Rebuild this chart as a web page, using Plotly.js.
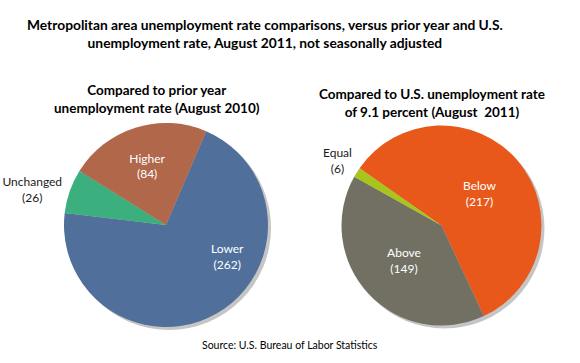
<!DOCTYPE html>
<html>
<head>
<meta charset="utf-8">
<script src="https://cdn.plot.ly/plotly-3.0.1.min.js"></script>
<style>html,body{margin:0;padding:0;background:#fff;}#chart{width:580px;height:363px;}</style>
</head>
<body>
<div id="chart"></div>
<script>
// Left pie: compared to prior year (August 2010)
var priorLabels = ["Lower", "Unchanged", "Higher"];
var priorValues = [262, 26, 84];
var priorColors = ["#50709B", "#3CAF7E", "#B0674A"];

// Right pie: compared to U.S. rate of 9.1 percent (August 2011)
var usLabels = ["Below", "Above", "Equal"];
var usValues = [217, 149, 6];
var usColors = ["#E8581B", "#717063", "#A9C51B"];

var FONT = "Lato, 'Open Sans', sans-serif";

function shadow(domain) {
  return {
    type: "pie", values: [1], labels: ["s"], sort: false, textinfo: "none",
    hoverinfo: "skip", showlegend: false, domain: domain,
    marker: {colors: ["rgba(90,90,90,0.35)"], line: {width: 0}}
  };
}

var leftDom = {x: [0.1103, 0.4621], y: [0.0992, 0.6612]};
var rightDom = {x: [0.5888, 0.9336], y: [0.1033, 0.6543]};
function shift(d, dx, dy) {
  return {x: [d.x[0] + dx, d.x[1] + dx], y: [d.y[0] - dy, d.y[1] - dy]};
}
function lbl(labels, values, i) {
  return labels[i] + "<br>(" + values[i] + ")";
}

var data = [
  shadow(shift(leftDom, 3/580, 3/363)),
  shadow(shift(rightDom, 3/580, 3/363)),
  {
    type: "pie", labels: priorLabels, values: priorValues, sort: false,
    direction: "clockwise", rotation: 23.2, domain: leftDom,
    marker: {colors: priorColors, line: {width: 0}},
    texttemplate: "%{label}<br>(%{value})",
    textposition: ["none", "outside", "inside"],
    insidetextfont: {color: "#ffffff", size: 12, family: FONT},
    outsidetextfont: {color: "#1a1a1a", size: 12, family: FONT},
    insidetextorientation: "horizontal",
    showlegend: false, hoverinfo: "label+value"
  },
  {
    type: "pie", labels: usLabels, values: usValues, sort: false,
    direction: "clockwise", rotation: 305, domain: rightDom,
    marker: {colors: usColors, line: {width: 0}},
    texttemplate: "%{label}<br>(%{value})",
    textposition: ["inside", "inside", "none"],
    insidetextfont: {color: "#ffffff", size: 12, family: FONT},
    outsidetextfont: {color: "#1a1a1a", size: 12, family: FONT},
    insidetextorientation: "horizontal",
    showlegend: false, hoverinfo: "label+value"
  }
];

var layout = {
  width: 580, height: 363,
  margin: {l: 0, r: 0, t: 0, b: 0},
  paper_bgcolor: "#ffffff",
  font: {family: FONT, color: "#000000"},
  showlegend: false,
  annotations: [
    {text: "<b>Metropolitan area unemployment rate comparisons, versus prior year and U.S.<br>unemployment rate, August 2011, not seasonally adjusted</b>",
     xref: "paper", yref: "paper", x: 265/580, y: 1 - 33/363, xanchor: "center", yanchor: "middle",
     showarrow: false, font: {size: 13.8, family: FONT, color: "#000000"}},
    {text: "<b>Compared to prior year<br>unemployment rate (August 2010)</b>", xref: "paper", yref: "paper",
     x: 157/580, y: 1 - 99/363, xanchor: "center", yanchor: "middle", showarrow: false,
     font: {size: 13.5, family: FONT, color: "#000000"}},
    {text: "<b>Compared to U.S. unemployment rate<br>of 9.1 percent (August  2011)</b>", xref: "paper", yref: "paper",
     x: 432/580, y: 1 - 103/363, xanchor: "center", yanchor: "middle", showarrow: false,
     font: {size: 13.5, family: FONT, color: "#000000"}},
    {text: lbl(priorLabels, priorValues, 0), xref: "paper", yref: "paper",
     x: 227/580, y: 1 - 256/363, xanchor: "center", yanchor: "middle", showarrow: false,
     font: {size: 12, family: FONT, color: "#ffffff"}},
    {text: lbl(usLabels, usValues, 2), xref: "paper", yref: "paper",
     x: 337/580, y: 1 - 160/363, xanchor: "center", yanchor: "middle", showarrow: false,
     font: {size: 12, family: FONT, color: "#1a1a1a"}},
    {text: "Source: U.S. Bureau of Labor Statistics", xref: "paper", yref: "paper",
     x: 0.5, y: 1 - 345/363, xanchor: "center", yanchor: "middle", showarrow: false,
     font: {size: 10.5, family: FONT, color: "#000000"}}
  ]
};

Plotly.newPlot("chart", data, layout, {displayModeBar: false, staticPlot: true});
</script>
</body>
</html>
